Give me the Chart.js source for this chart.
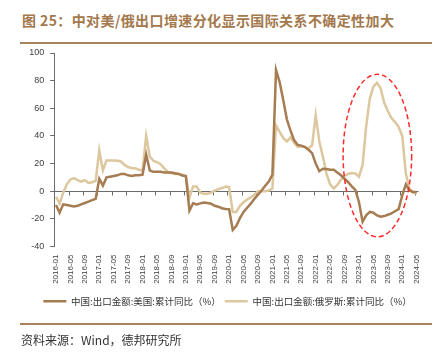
<!DOCTYPE html>
<html>
<head>
<meta charset="utf-8">
<script src="https://cdn.jsdelivr.net/npm/chart.js@4.4.1/dist/chart.umd.min.js"></script>
<style>
  html, body { margin: 0; padding: 0; background: #ffffff; }
  #wrap { position: relative; width: 446px; height: 356px; overflow: hidden; background: #fff; }
  #title { position: absolute; left: 22px; top: 10px; font: bold 14px "Noto Sans CJK SC", sans-serif; color: #a3784c; letter-spacing: 0.4px; white-space: nowrap; }
  #rule1 { position: absolute; left: 20px; top: 42px; width: 412px; height: 2px; background: #a8845e; }
  #rule2 { position: absolute; left: 20px; top: 322.5px; width: 412px; height: 2px; background: #a8845e; }
  #source { position: absolute; left: 21px; top: 331px; font: 12px "Noto Sans CJK SC", sans-serif; color: #333; white-space: nowrap; }
  canvas { position: absolute; left: 0; top: 0; }
</style>
</head>
<body>
<div id="wrap">
  <div id="title">图 25：中对美/俄出口增速分化显示国际关系不确定性加大</div>
  <div id="rule1"></div>
  <canvas id="c" width="446" height="356"></canvas>
  <div id="rule2"></div>
  <div id="source">资料来源：Wind，德邦研究所</div>
</div>
<script>
// ---- Data ----
const years = [2016, 2017, 2018, 2019, 2020, 2021, 2022, 2023, 2024];
const months = ['01','02','03','04','05','06','07','08','09','10','11','12'];
const categories = [];
for (const y of years) for (const m of months) { if (y === 2024 && +m > 5) break; categories.push(y + '-' + m); }

const seriesNames = ['中国:出口金额:美国:累计同比（%）', '中国:出口金额:俄罗斯:累计同比（%）'];

const usYoY = [
  -10, -15.5, -9.5, -10, -10.5, -11, -10.5, -9.5, -8.5, -7.5, -6.5, -5.5,
  9, 4, 10, 10.5, 11, 11.5, 12.5, 12.5, 11.5, 11, 11.5, 11.5,
  12, 26.5, 15, 14, 14, 14, 13.5, 13.5, 13.5, 13, 12.5, 11.3,
  11, -14, -8.7, -9.5, -8.8, -8.2, -8.5, -9, -10.5, -11.2, -12.3, -12.8,
  -13, -28, -25, -19.5, -15, -12, -9, -5.5, -2.5, 0.5, 4, 7,
  12, 87.7, 79, 66, 52, 44, 37, 33.5, 33, 32, 30, 27.5,
  20, 14.5, 16.3, 16, 15.5, 15.5, 13.5, 11.5, 9, 6.5, 3.5, 1,
  -8, -22, -17.5, -15, -15.5, -17.5, -18.5, -18, -17, -16, -14.5, -13,
  -3, 5, 0.5, -0.5, -0.5
];

const ruYoY = [
  -4, -9, -1, 5, 8.5, 9.5, 8, 7, 8, 6, 6.5, 7.5,
  29.6, 15, 22.3, 22.3, 22.3, 22, 21.5, 19, 17.5, 16.7, 16.7, 15.5,
  15, 40, 25, 22, 21, 19.5, 16.5, 14, 13, 12.5, 12.5, 12,
  11, -4.5, 3.4, 3.4, -1, -1.9, -1.8, -1, 0.5, 1.5, 2.3, 3.4,
  3, -15, -15, -10.5, -8, -6, -4.5, -2.5, 0, 0, 0, 0.5,
  2, 47.7, 43, 38.5, 36, 39, 35, 32, 32.5, 32, 31, 33.2,
  55, 36, 25, 12.6, 5, 2, 4.5, 8.5, 11, 12.5, 13.1, 12.8,
  10.5, 19, 47, 67, 75.6, 78.5, 74.5, 64, 58, 53, 50, 46.5,
  40, 12.6, 2, -1, -1.5
];

const yTicks = [-40, -20, 0, 20, 40, 60, 80, 100];
const labelEvery = 4;

// Highlight ellipse (annotation), in data units: category index range and value range
const highlight = { fromIndex: 79.6, toIndex: 98.6, top: 84.6, bottom: -33 };

const colors = { us: '#a67c52', ru: '#dcc79e', axis: '#6b6b6b', text: '#404040' };

// ---- Plugins ----
const zeroAxisPlugin = {
  id: 'zeroAxis',
  beforeDatasetsDraw(chart) {
    const { ctx, chartArea, scales } = chart;
    const y0 = Math.round(scales.y.getPixelForValue(0)) + 0.5;
    const n = categories.length;
    const step = (chartArea.right - chartArea.left) / n;
    ctx.save();
    ctx.strokeStyle = colors.axis;
    ctx.lineWidth = 1;
    ctx.beginPath();
    ctx.moveTo(chartArea.left, y0);
    ctx.lineTo(chartArea.right, y0);
    for (let k = 0; k * labelEvery <= n; k++) {
      const x = Math.round(chartArea.left + k * labelEvery * step) + 0.5;
      ctx.moveTo(x, y0);
      ctx.lineTo(x, y0 + 4);
    }
    ctx.stroke();
    ctx.restore();
  }
};

const ellipsePlugin = {
  id: 'ellipseNote',
  afterDatasetsDraw(chart) {
    const { ctx, scales } = chart;
    const x1 = scales.x.getPixelForValue(highlight.fromIndex);
    const x2 = scales.x.getPixelForValue(highlight.toIndex);
    const y1 = scales.y.getPixelForValue(highlight.top);
    const y2 = scales.y.getPixelForValue(highlight.bottom);
    ctx.save();
    ctx.strokeStyle = '#ff2b2b';
    ctx.lineWidth = 1.5;
    ctx.setLineDash([5, 3]);
    ctx.beginPath();
    ctx.ellipse((x1 + x2) / 2, (y1 + y2) / 2, (x2 - x1) / 2, (y2 - y1) / 2, 0, 0, Math.PI * 2);
    ctx.stroke();
    ctx.restore();
  }
};

new Chart(document.getElementById('c'), {
  type: 'line',
  data: {
    labels: categories,
    datasets: [
      { label: seriesNames[0], data: usYoY, borderColor: colors.us, backgroundColor: colors.us, borderWidth: 2.5, pointRadius: 0, tension: 0 },
      { label: seriesNames[1], data: ruYoY, borderColor: colors.ru, backgroundColor: colors.ru, borderWidth: 2.5, pointRadius: 0, tension: 0 }
    ]
  },
  options: {
    responsive: false,
    animation: false,
    devicePixelRatio: 1,
    layout: { padding: { left: 9, top: 53, right: 0, bottom: 40 } },
    plugins: {
      tooltip: { enabled: false },
      legend: {
        position: 'bottom',
        labels: {
          usePointStyle: true,
          pointStyle: 'line',
          pointStyleWidth: 23,
          padding: 4,
          color: '#333',
          font: { family: '"Noto Sans CJK SC", sans-serif', size: 9.5 }
        }
      }
    },
    scales: {
      x: {
        type: 'category',
        offset: true,
        grid: { display: false, drawTicks: false },
        border: { display: false },
        ticks: {
          autoSkip: false,
          maxRotation: 90,
          minRotation: 90,
          padding: 8,
          color: colors.text,
          font: { family: '"Liberation Sans", Arial, sans-serif', size: 8 },
          callback: function (value, index) { return index % labelEvery === 0 ? categories[index] : null; }
        },
        afterFit(scale) { scale.height = 46; }
      },
      y: {
        min: yTicks[0],
        max: yTicks[yTicks.length - 1],
        afterBuildTicks(scale) { scale.ticks = yTicks.map(v => ({ value: v })); },
        grid: { display: true, drawOnChartArea: false, drawTicks: true, tickLength: 4, color: colors.axis },
        border: { display: true, color: colors.axis, width: 1 },
        ticks: {
          padding: 6,
          color: colors.text,
          font: { family: '"Liberation Sans", Arial, sans-serif', size: 9 }
        },
        afterFit(scale) { scale.width = 45.2; }
      },
      yRight: {
        position: 'right',
        display: true,
        min: yTicks[0],
        max: yTicks[yTicks.length - 1],
        grid: { display: false, drawTicks: false },
        border: { display: false },
        ticks: { display: false },
        afterFit(scale) { scale.width = 27.5; }
      }
    }
  },
  plugins: [zeroAxisPlugin, ellipsePlugin]
});
</script>
</body>
</html>
